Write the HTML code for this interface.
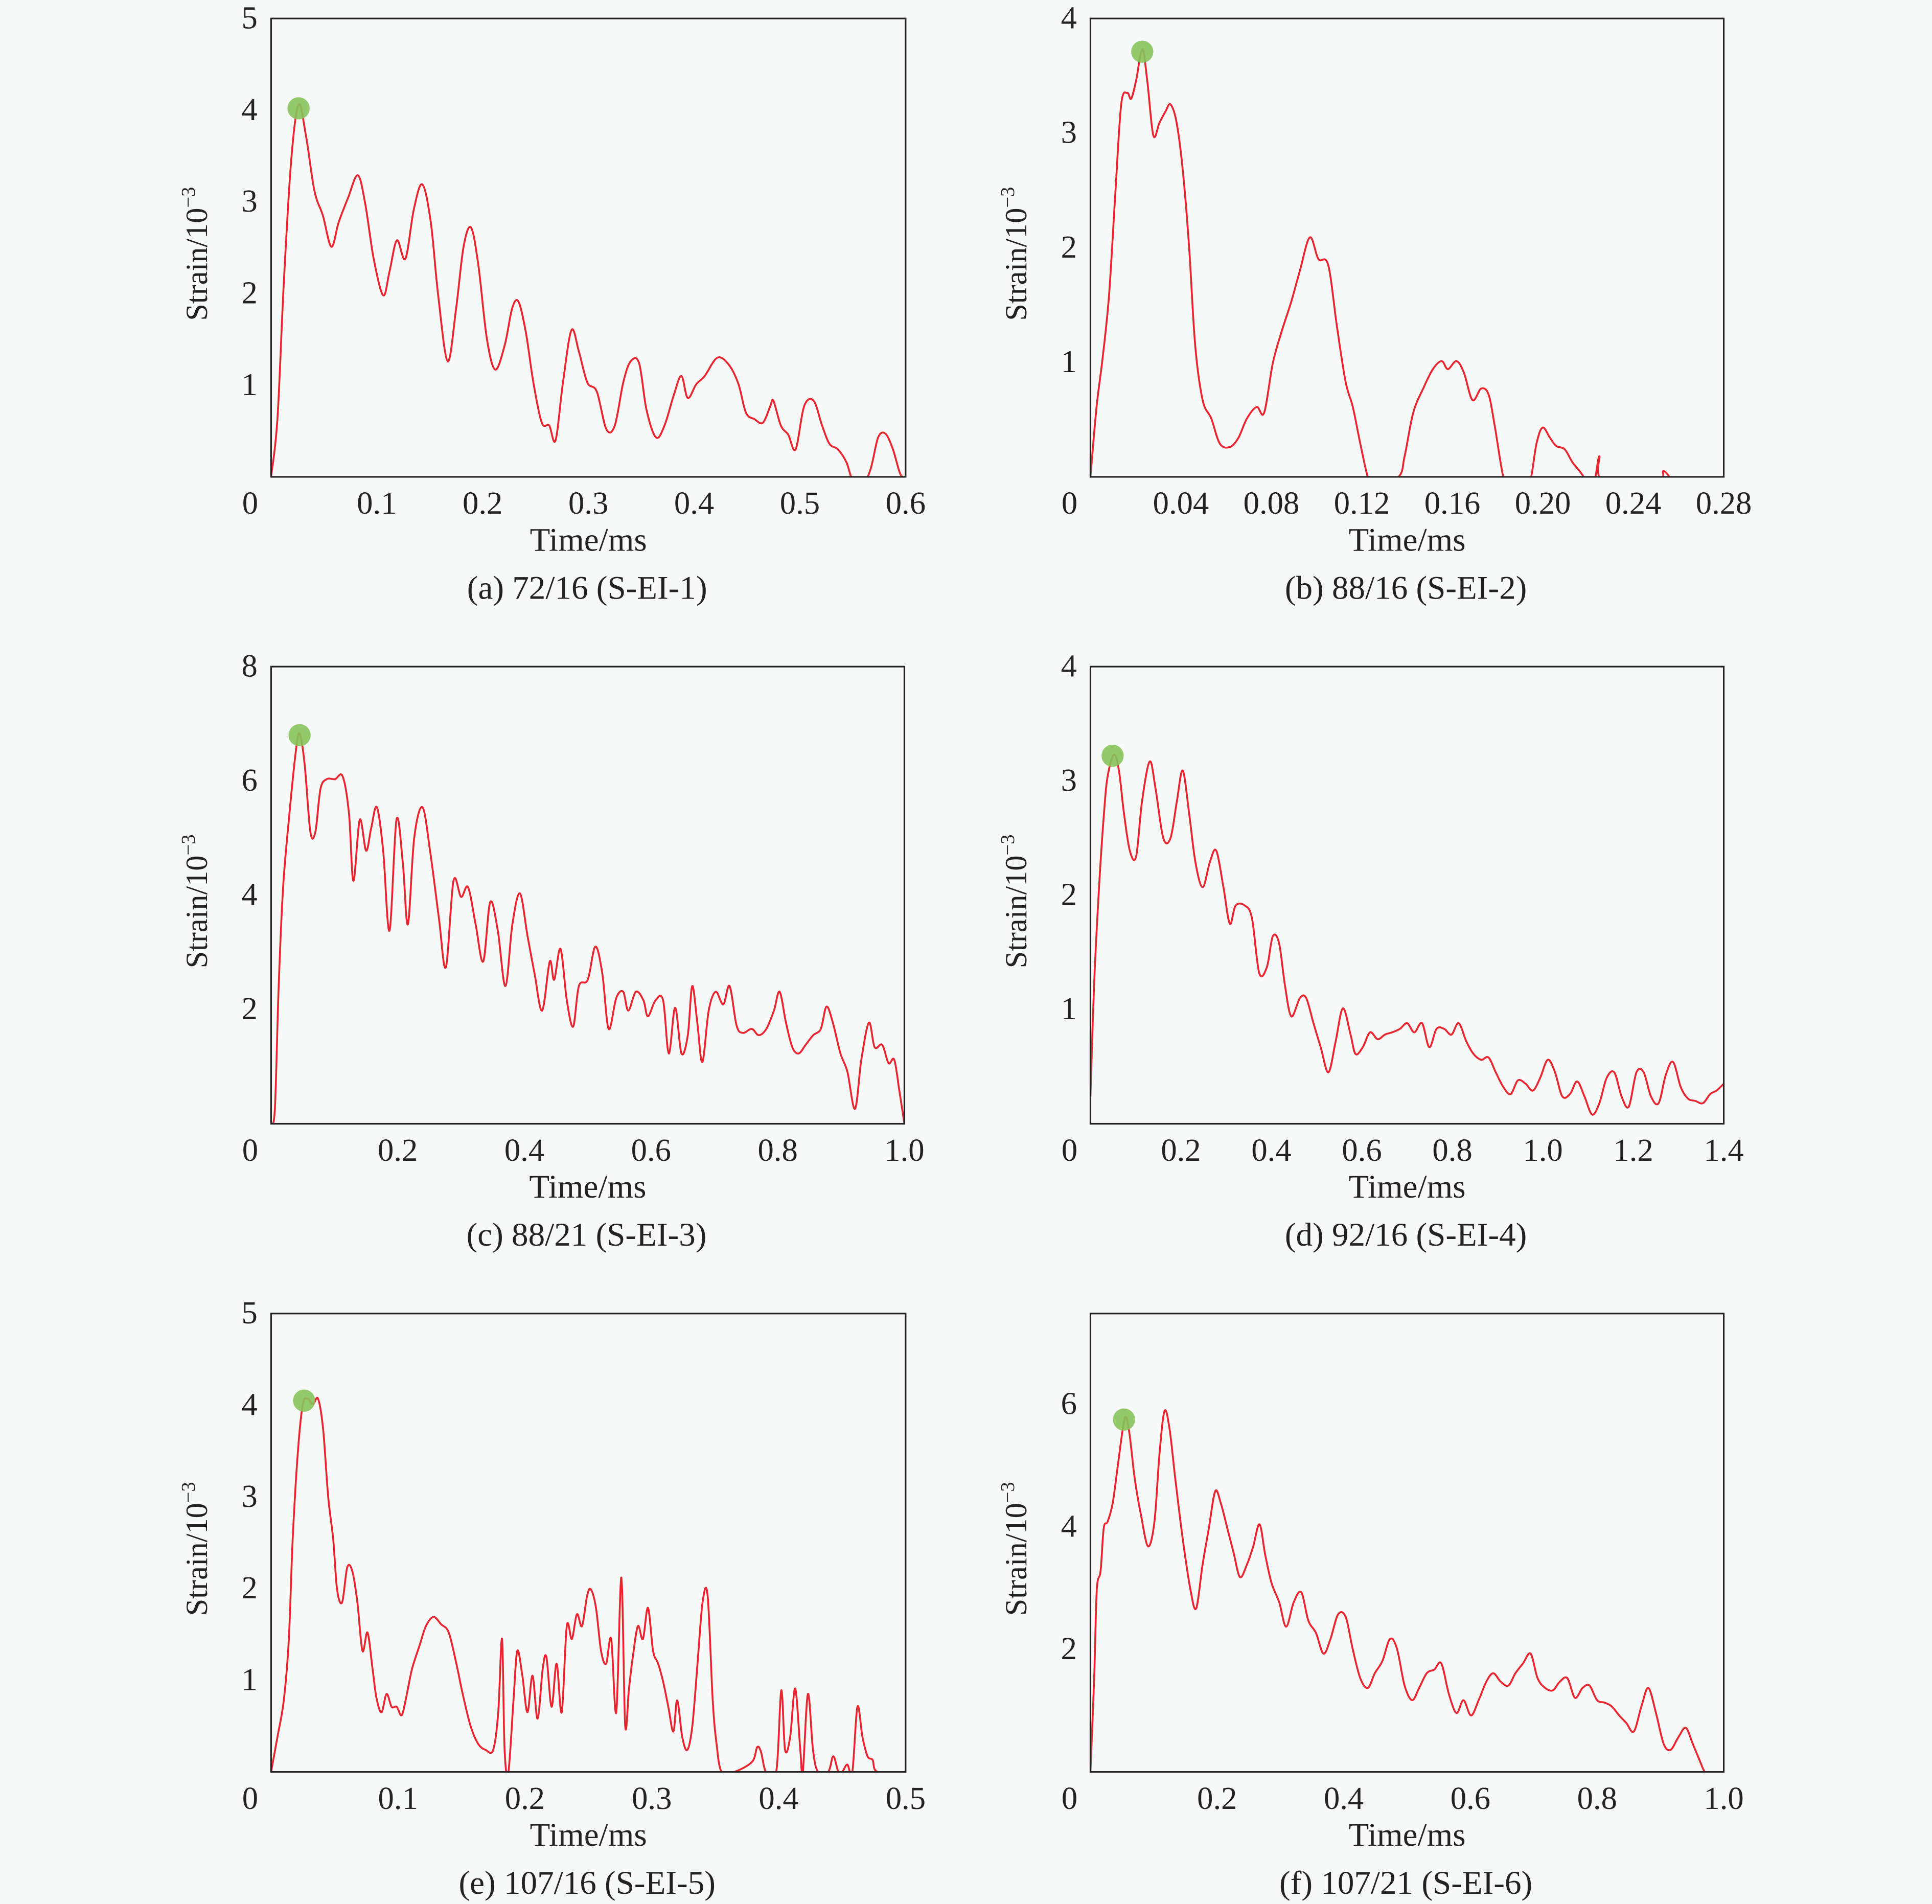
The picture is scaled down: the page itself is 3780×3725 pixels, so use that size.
<!DOCTYPE html>
<html><head><meta charset="utf-8"><style>
html,body{margin:0;padding:0;background:#f7f8f8;}
svg{display:block;}
text{font-family:"Liberation Serif",serif;fill:#222;}
</style></head><body>
<svg id="fig" width="3780" height="3725" viewBox="0 0 1568 1545.2" xmlns="http://www.w3.org/2000/svg">
<rect x="0" y="0" width="1568" height="1546" fill="#f7f8f8"/>
</svg>
<script>
// ---- Panel (a) 72/16 ----
const aTime=[0,.006,.012,.019,.026,.033,.041,.049,.057,.064,.073,.082,.089,.097,.106,.112,.119,.127,.135,.143,.151,.158,.167,.175,.182,.189,.196,.204,.212,.221,.228,.234,.241,.248,.256,.263,.269,.276,.284,.291,.299,.308,.317,.325,.333,.34,.348,.355,.364,.372,.381,.388,.394,.402,.41,.422,.433,.442,.449,.457,.465,.472,.475,.482,.489,.496,.504,.513,.521,.528,.536,.544,.55,.559,.567,.574,.581,.588,.595,.6];
const aStrain=[0,.63,2.11,3.45,4.06,3.72,3.12,2.85,2.51,2.78,3.05,3.29,2.98,2.38,1.98,2.24,2.58,2.38,2.92,3.19,2.78,1.98,1.26,1.84,2.51,2.72,2.31,1.51,1.17,1.44,1.84,1.91,1.57,1.03,.59,.56,.4,1.03,1.6,1.37,1.03,.93,.52,.56,1.03,1.26,1.24,.73,.43,.56,.9,1.1,.86,1.01,1.1,1.3,1.22,1.01,.7,.63,.59,.77,.83,.56,.46,.3,.77,.83,.56,.36,.3,.16,-.04,-.1,.09,.43,.47,.3,.03,0];
// ---- Panel (b) 88/16 ----
const bTime=[0,.0027,.0054,.0082,.0109,.0136,.0163,.018,.0202,.0229,.0251,.0278,.0305,.0332,.0354,.0381,.0409,.0436,.0463,.0496,.0534,.0572,.0616,.0654,.0692,.0735,.0768,.0806,.0844,.0888,.0926,.097,.1008,.1051,.109,.1128,.116,.1193,.1226,.1253,.1362,.1389,.1427,.1471,.1514,.1553,.158,.1618,.1651,.1689,.1727,.176,.1787,.1825,.1852,.1934,.1972,.1999,.2032,.2059,.2097,.213,.2163,.2195,.2228,.225,.2266,.2506,.2533,.256];
const bStrain=[0,.61,1.04,1.58,2.44,3.25,3.35,3.3,3.46,3.73,3.46,2.98,3.09,3.19,3.25,3.09,2.66,2.01,1.15,.67,.51,.29,.26,.34,.51,.61,.56,.99,1.26,1.53,1.8,2.09,1.9,1.85,1.31,.83,.61,.29,0,-.09,0,.18,.56,.77,.94,1.01,.94,1.01,.91,.67,.77,.72,.45,0,-.09,-.09,.29,.43,.34,.27,.24,.13,.05,-.03,-.03,.18,-.03,-.03,.05,0];
// ---- Panel (c) 88/21 ----
const cTime=[0,.006,.012,.019,.029,.039,.045,.053,.062,.07,.078,.088,.101,.113,.123,.13,.14,.15,.158,.167,.177,.187,.198,.208,.216,.226,.239,.251,.265,.276,.288,.3,.311,.323,.335,.346,.358,.37,.381,.393,.405,.416,.428,.44,.447,.457,.467,.477,.486,.5,.512,.523,.533,.545,.556,.564,.576,.588,.595,.607,.619,.628,.638,.648,.658,.665,.673,.681,.691,.702,.714,.724,.735,.745,.759,.77,.782,.794,.803,.813,.823,.833,.844,.856,.868,.877,.887,.899,.91,.922,.932,.944,.953,.965,.975,.984,.992,1.0];
const cStrain=[0,.26,2.41,4.14,5.43,6.51,6.83,6.29,5.11,5.11,5.86,6.03,6.03,6.08,5.43,4.25,5.32,4.78,5.17,5.54,4.78,3.38,5.32,4.57,3.49,5.0,5.54,4.78,3.6,2.74,4.25,3.97,4.14,3.49,2.84,3.88,3.38,2.41,3.49,4.03,3.28,2.63,1.98,2.84,2.52,3.06,2.16,1.7,2.41,2.52,3.1,2.63,1.66,2.2,2.31,1.98,2.31,2.16,1.88,2.16,2.16,1.23,2.03,1.23,1.55,2.41,1.77,1.08,1.98,2.31,2.09,2.41,1.72,1.59,1.66,1.55,1.66,1.98,2.31,1.77,1.34,1.23,1.38,1.55,1.66,2.05,1.77,1.23,.91,.26,1.12,1.77,1.34,1.38,1.06,1.12,.58,0];
// ---- Panel (d) 92/16 ----
const dTime=[0,.008,.019,.03,.038,.052,.063,.074,.087,.101,.114,.131,.144,.161,.177,.191,.204,.218,.232,.248,.264,.278,.294,.308,.321,.341,.357,.373,.39,.403,.417,.43,.444,.463,.477,.493,.509,.526,.542,.558,.575,.586,.602,.618,.635,.651,.667,.684,.7,.716,.733,.749,.765,.782,.798,.814,.831,.847,.864,.88,.896,.913,.929,.945,.962,.978,.994,1.011,1.027,1.043,1.06,1.076,1.092,1.109,1.125,1.141,1.158,1.174,1.19,1.207,1.223,1.239,1.256,1.272,1.288,1.305,1.321,1.337,1.354,1.37,1.384,1.4];
const dStrain=[.24,1.21,2.07,2.72,3.04,3.23,3.09,2.72,2.39,2.34,2.82,3.17,2.93,2.5,2.5,2.82,3.09,2.72,2.29,2.07,2.29,2.39,2.07,1.75,1.91,1.91,1.8,1.32,1.37,1.64,1.58,1.21,.94,1.1,1.1,.88,.67,.45,.72,1.01,.78,.61,.67,.8,.74,.78,.8,.83,.88,.8,.88,.67,.83,.83,.78,.88,.72,.61,.56,.58,.45,.32,.26,.38,.35,.29,.4,.56,.45,.24,.26,.37,.24,.08,.18,.4,.45,.24,.15,.45,.45,.24,.18,.43,.54,.32,.22,.2,.18,.26,.29,.35];
// ---- Panel (e) 107/16 ----
const eTime=[0,.005,.01,.014,.017,.021,.025,.029,.033,.037,.041,.045,.049,.052,.056,.06,.064,.068,.072,.076,.08,.083,.087,.091,.095,.099,.103,.107,.111,.117,.122,.128,.134,.14,.146,.151,.157,.163,.169,.175,.179,.182,.184,.187,.191,.194,.198,.202,.206,.21,.214,.217,.221,.225,.229,.233,.237,.241,.245,.249,.252,.256,.26,.264,.268,.272,.276,.279,.282,.285,.289,.293,.297,.301,.305,.309,.313,.317,.32,.324,.328,.332,.336,.34,.344,.348,.351,.355,.365,.379,.383,.386,.39,.398,.402,.405,.409,.413,.417,.419,.423,.427,.431,.439,.443,.447,.45,.454,.458,.462,.466,.47,.474,.478,.5];
const eStrain=[0,.38,.78,1.45,2.53,3.47,4.01,4.07,4.01,4.07,3.74,3.0,2.53,1.99,1.85,2.23,2.19,1.85,1.32,1.52,1.12,.81,.65,.85,.71,.71,.62,.85,1.12,1.38,1.59,1.69,1.61,1.52,1.18,.85,.51,.31,.24,.24,.65,1.45,.24,0,.78,1.32,1.05,.65,1.05,.58,1.12,1.25,.71,1.18,.65,1.59,1.45,1.72,1.59,1.92,1.99,1.79,1.32,1.18,1.45,.65,2.12,.51,.91,1.25,1.59,1.45,1.79,1.32,1.18,.98,.71,.44,.78,.38,.24,.51,1.18,1.85,1.92,.78,.31,0,0,.11,.27,.22,0,0,.89,.24,.38,.91,.24,0,.85,.24,0,0,.17,0,0,.08,0,.71,.38,.17,.13,0,0];
// ---- Panel (f) 107/21 ----
const fTime=[0,.006,.01,.016,.021,.027,.035,.043,.051,.056,.062,.07,.08,.091,.101,.109,.117,.125,.134,.146,.158,.167,.177,.187,.197,.206,.216,.226,.236,.247,.257,.267,.276,.286,.298,.309,.321,.333,.344,.356,.368,.379,.391,.403,.414,.426,.438,.449,.461,.473,.484,.496,.508,.519,.531,.543,.554,.566,.578,.589,.601,.613,.625,.636,.648,.66,.671,.683,.695,.706,.718,.73,.741,.753,.765,.777,.788,.8,.812,.823,.835,.846,.858,.87,.881,.893,.905,.916,.928,.94,.951,.963,.97,.977];
const fStrain=[0,1.57,2.97,3.28,3.98,4.08,4.38,4.98,5.59,5.79,5.49,4.78,4.18,3.68,4.08,5.19,5.89,5.59,4.78,3.78,2.97,2.67,3.38,3.98,4.58,4.38,3.98,3.58,3.18,3.38,3.68,4.04,3.54,3.08,2.77,2.37,2.77,2.93,2.47,2.27,1.93,2.17,2.57,2.53,2.01,1.53,1.37,1.61,1.81,2.17,2.01,1.41,1.17,1.37,1.61,1.67,1.77,1.27,.96,1.17,.92,1.17,1.47,1.61,1.47,1.41,1.61,1.77,1.93,1.53,1.37,1.33,1.47,1.53,1.21,1.37,1.41,1.17,1.13,1.07,.92,.8,.66,1.07,1.37,.96,.46,.36,.56,.72,.46,.16,0,0];
// peak markers [time, strain]
const aPeak=[0.026,4.02], bPeak=[0.0229,3.71], cPeak=[0.045,6.8], dPeak=[0.049,3.22], ePeak=[0.026,4.05], fPeak=[0.053,5.75];
// tick labels
const aXTicks=[0.1,0.2,0.3,0.4,0.5,0.6], aXLabels=["0.1","0.2","0.3","0.4","0.5","0.6"], aYTicks=[1,2,3,4,5];
const bXTicks=[0.04,0.08,0.12,0.16,0.20,0.24,0.28], bXLabels=["0.04","0.08","0.12","0.16","0.20","0.24","0.28"], bYTicks=[1,2,3,4];
const cXTicks=[0.2,0.4,0.6,0.8,1.0], cXLabels=["0.2","0.4","0.6","0.8","1.0"], cYTicks=[2,4,6,8];
const dXTicks=[0.2,0.4,0.6,0.8,1.0,1.2,1.4], dXLabels=["0.2","0.4","0.6","0.8","1.0","1.2","1.4"], dYTicks=[1,2,3,4];
const eXTicks=[0.1,0.2,0.3,0.4,0.5], eXLabels=["0.1","0.2","0.3","0.4","0.5"], eYTicks=[1,2,3,4,5];
const fXTicks=[0.2,0.4,0.6,0.8,1.0], fXLabels=["0.2","0.4","0.6","0.8","1.0"], fYTicks=[2,4,6];
const captions=["(a) 72/16 (S-EI-1)","(b) 88/16 (S-EI-2)","(c) 88/21 (S-EI-3)","(d) 92/16 (S-EI-4)","(e) 107/16 (S-EI-5)","(f) 107/21 (S-EI-6)"];

const NS="http://www.w3.org/2000/svg";
const svg=document.getElementById('fig');
function mk(tag,attrs,parent){const e=document.createElementNS(NS,tag);for(const k in attrs)e.setAttribute(k,attrs[k]);parent.appendChild(e);return e;}

const panels=[
 {id:'a',L:220,R:735,T:15,B:387,xMax:0.6,yMax:5,t:aTime,v:aStrain,pk:aPeak,xt:aXTicks,xl:aXLabels,yt:aYTicks},
 {id:'b',L:885,R:1399,T:15,B:387,xMax:0.28,yMax:4,t:bTime,v:bStrain,pk:bPeak,xt:bXTicks,xl:bXLabels,yt:bYTicks},
 {id:'c',L:220,R:734,T:541,B:912,xMax:1.0,yMax:8,t:cTime,v:cStrain,pk:cPeak,xt:cXTicks,xl:cXLabels,yt:cYTicks},
 {id:'d',L:885,R:1399,T:541,B:912,xMax:1.4,yMax:4,t:dTime,v:dStrain,pk:dPeak,xt:dXTicks,xl:dXLabels,yt:dYTicks},
 {id:'e',L:220,R:735,T:1066,B:1438,xMax:0.5,yMax:5,t:eTime,v:eStrain,pk:ePeak,xt:eXTicks,xl:eXLabels,yt:eYTicks},
 {id:'f',L:885,R:1399,T:1066,B:1438,xMax:1.0,yMax:7.48,t:fTime,v:fStrain,pk:fPeak,xt:fXTicks,xl:fXLabels,yt:fYTicks}
];

function smoothPath(pts){
  let d='M'+pts[0][0].toFixed(2)+','+pts[0][1].toFixed(2);
  for(let i=0;i<pts.length-1;i++){
    const p0=pts[Math.max(0,i-1)],p1=pts[i],p2=pts[i+1],p3=pts[Math.min(pts.length-1,i+2)];
    const c1x=p1[0]+(p2[0]-p0[0])/6,c1y=p1[1]+(p2[1]-p0[1])/6;
    const c2x=p2[0]-(p3[0]-p1[0])/6,c2y=p2[1]-(p3[1]-p1[1])/6;
    d+='C'+c1x.toFixed(2)+','+c1y.toFixed(2)+' '+c2x.toFixed(2)+','+c2y.toFixed(2)+' '+p2[0].toFixed(2)+','+p2[1].toFixed(2);
  }
  return d;
}

panels.forEach((p,i)=>{
  const g=mk('g',{},svg);
  
  
  const xs=t=>p.L+t/p.xMax*(p.R-p.L);
  const ys=v=>p.B-v/p.yMax*(p.B-p.T);
  const cp=mk('clipPath',{id:'clip'+p.id},g);
  mk('rect',{x:p.L,y:p.T,width:p.R-p.L,height:p.B-p.T},cp);
  const n=Math.min(p.t.length,p.v.length);
  const pts=[];
  for(let k=0;k<n;k++)pts.push([xs(p.t[k]),ys(p.v[k])]);
  const line=mk('path',{d:smoothPath(pts),fill:'none',stroke:'#e8242e','stroke-width':1.5,'stroke-linejoin':'round','clip-path':'url(#clip'+p.id+')'},g);
  
  
  const dot=mk('circle',{cx:xs(p.pk[0]),cy:ys(p.pk[1]),r:9,fill:'#86c35a','fill-opacity':0.9},g);
  
  
  const box=mk('rect',{x:p.L,y:p.T,width:p.R-p.L,height:p.B-p.T,fill:'none',stroke:'#222','stroke-width':1.3},g);
  
  
  p.yt.forEach(v=>{
    const tx=mk('text',{x:p.L-11,y:ys(v)+8,'text-anchor':'end','font-size':26},g);
    tx.textContent=String(v);
    
    
  });
  const z=mk('text',{x:p.L-17,y:p.B+30,'text-anchor':'middle','font-size':26},g);
  z.textContent='0';
  
  
  p.xt.forEach((t,k)=>{
    const tx=mk('text',{x:xs(t),y:p.B+30,'text-anchor':'middle','font-size':26},g);
    tx.textContent=p.xl[k];
    
    
  });
  const cx=(p.L+p.R)/2;
  const xt=mk('text',{x:cx,y:p.B+60,'text-anchor':'middle','font-size':27},g);
  xt.textContent='Time/ms';
  
  
  const cap=mk('text',{x:cx-1,y:p.B+99,'text-anchor':'middle','font-size':27},g);
  cap.textContent=captions[i];
  
  
  const yc=p.T+(p.B-p.T)*0.5+5;
  const yt=mk('text',{x:0,y:0,'text-anchor':'middle','font-size':25,transform:'translate('+(p.L-52)+','+yc+') rotate(-90)'},g);
  yt.innerHTML='Strain/10<tspan dy="-10" font-size="16">−3</tspan>';
  
  
});
</script>
</body></html>
